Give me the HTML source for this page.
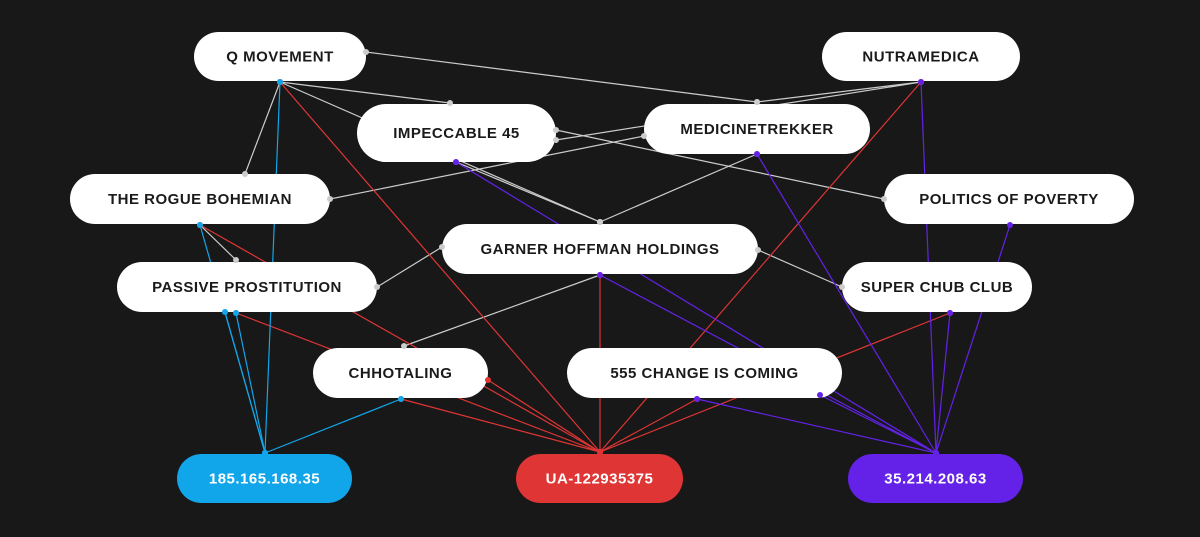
<!DOCTYPE html>
<html><head><meta charset="utf-8">
<style>
html,body{margin:0;padding:0;background:#181818;}
svg{display:block;}
text{font-family:"Liberation Sans",sans-serif;font-size:15px;font-weight:bold;letter-spacing:0.5px;}
</style></head>
<body>
<svg id="g" width="1200" height="537" viewBox="0 0 1200 537" xmlns="http://www.w3.org/2000/svg">
<rect width="1200" height="537" fill="#181818"/>
<g id="edges"></g>
<g id="nodes"></g>
</svg>
<script>
const nodeNames = ["Q MOVEMENT","NUTRAMEDICA","IMPECCABLE 45","MEDICINETREKKER","THE ROGUE BOHEMIAN","POLITICS OF POVERTY","GARNER HOFFMAN HOLDINGS","PASSIVE PROSTITUTION","SUPER CHUB CLUB","CHHOTALING","555 CHANGE IS COMING","185.165.168.35","UA-122935375","35.214.208.63"];
const nodeBoxes = [[194,32,366,81],[822,32,1020,81],[357,104,556,162],[644,104,870,154],[70,174,330,224],[884,174,1134,224],[442,224,758,274],[117,262,377,312],[842,262,1032,312],[313,348,488,398],[567,348,842,398],[177,454,352,503],[516,454,683,503],[848,454,1023,503]];
const nodeFill = ["#fff","#fff","#fff","#fff","#fff","#fff","#fff","#fff","#fff","#fff","#fff","#11a6ea","#e03535","#6422e8"];
const edgeFrom = [[366,52],[280,82],[280,82],[280,82],[556,130],[330,199],[921,82],[921,82],[757,154],[442,247],[758,250],[600,275],[200,225],[456,162],
 [280,82],[921,82],[200,225],[236,313],[401,399],[488,380],[600,275],[697,399],[950,313],
 [200,225],[280,82],[236,313],[225,312],[401,399],
 [456,162],[757,154],[921,82],[1010,225],[950,313],[697,399],[600,275],[820,395]];
const edgeTo = [[757,102],[450,103],[600,222],[245,174],[884,199],[644,136],[757,102],[556,140],[600,222],[377,287],[842,287],[404,346],[236,260],[600,222],
 [600,452],[600,452],[600,452],[600,452],[600,452],[600,452],[600,452],[600,452],[600,452],
 [265,453],[265,453],[265,453],[265,453],[265,453],
 [936,453],[936,453],[936,453],[936,453],[936,453],[936,453],[936,453],[936,453]];
const edgeColor = ["#ccc","#ccc","#ccc","#ccc","#ccc","#ccc","#ccc","#ccc","#ccc","#ccc","#ccc","#ccc","#ccc","#ccc",
 "#e03535","#e03535","#e03535","#e03535","#e03535","#e03535","#e03535","#e03535","#e03535",
 "#11a6ea","#11a6ea","#11a6ea","#11a6ea","#11a6ea",
 "#6422e8","#6422e8","#6422e8","#6422e8","#6422e8","#6422e8","#6422e8","#6422e8"];
const NS="http://www.w3.org/2000/svg";
const eg=document.getElementById('edges'), ng=document.getElementById('nodes');
for(let i=0;i<edgeFrom.length;i++){
  const l=document.createElementNS(NS,'line');
  l.setAttribute('x1',edgeFrom[i][0]);l.setAttribute('y1',edgeFrom[i][1]);
  l.setAttribute('x2',edgeTo[i][0]);l.setAttribute('y2',edgeTo[i][1]);
  l.setAttribute('stroke',edgeColor[i]);l.setAttribute('stroke-width',1.2);
  
  
  eg.appendChild(l);
}
for(let i=0;i<nodeNames.length;i++){
  const b=nodeBoxes[i],w=b[2]-b[0],h=b[3]-b[1];
  const g=document.createElementNS(NS,'g');
  
  
  const r=document.createElementNS(NS,'rect');
  r.setAttribute('x',b[0]);r.setAttribute('y',b[1]);r.setAttribute('width',w);r.setAttribute('height',h);
  r.setAttribute('rx',h/2);r.setAttribute('fill',nodeFill[i]);
  g.appendChild(r);
  const t=document.createElementNS(NS,'text');
  t.setAttribute('x',b[0]+w/2);t.setAttribute('y',b[1]+h/2+5);
  t.setAttribute('text-anchor','middle');
  t.setAttribute('fill',i>=11?'#fff':'#1a1a1a');
  t.textContent=nodeNames[i];
  g.appendChild(t);
  ng.appendChild(g);
}
for(let i=0;i<edgeFrom.length;i++){
  [edgeFrom[i],edgeTo[i]].forEach(p=>{
    const c=document.createElementNS(NS,'circle');
    c.setAttribute('cx',p[0]);c.setAttribute('cy',p[1]);c.setAttribute('r',3);
    c.setAttribute('fill',edgeColor[i]);
    
    
    ng.appendChild(c);
  });
}
</script>
</body></html>
